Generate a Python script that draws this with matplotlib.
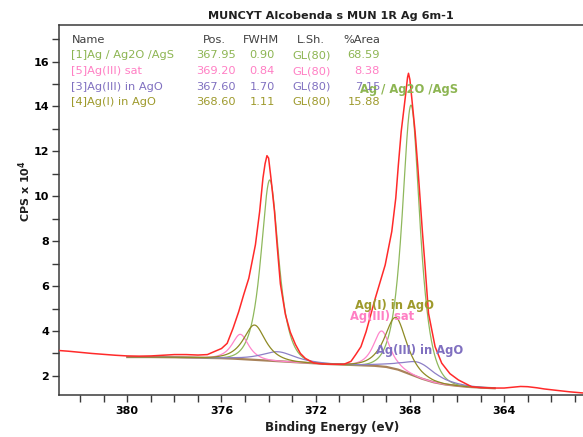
import numpy as np
import matplotlib
matplotlib.use("Agg")
import matplotlib.pyplot as plt
from matplotlib.ticker import MultipleLocator

plt.rcParams['font.family'] = ['DejaVu Sans']
plt.rcParams['mathtext.fontset'] = 'dejavusans'
plt.rcParams['mathtext.default'] = 'bf'

# ---------------- data ----------------
title = "MUNCYT Alcobenda s MUN 1R Ag 6m-1"

# measured spectrum (red), binding energy (eV) and CPS x 1e4
red_be = [382.88, 382.5, 382.0, 381.5, 381.0, 380.5, 380.0, 379.5, 379.0, 378.5,
          378.0, 377.5, 377.0, 376.6, 376.27, 376.0, 375.76, 375.51, 375.27, 375.06,
          374.84, 374.56, 374.38, 374.24, 374.15, 374.07, 374.0, 373.9, 373.75, 373.64,
          373.5, 373.29, 373.08, 372.86, 372.65, 372.44, 372.09, 371.7, 371.24, 370.8,
          370.5, 370.3, 370.08, 369.86, 369.47, 369.05, 368.77, 368.6, 368.49, 368.37,
          368.2, 368.1, 368.06, 368.0, 367.92, 367.78, 367.67, 367.57, 367.47, 367.36,
          367.21, 366.93, 366.65, 366.3, 365.94, 365.38, 365.0, 364.5, 364.0, 363.6,
          363.3, 363.0, 362.6, 362.3, 361.8, 361.2, 360.65]
red_cps = [3.13, 3.10, 3.05, 3.00, 2.96, 2.92, 2.89, 2.88, 2.89, 2.92,
           2.95, 2.95, 2.93, 2.95, 3.10, 3.22, 3.45, 4.12, 4.86, 5.61,
           6.35, 7.84, 9.32, 10.81, 11.45, 11.81, 11.70, 10.81, 9.32, 7.84,
           6.10, 4.75, 3.95, 3.40, 3.00, 2.78, 2.58, 2.53, 2.52, 2.52,
           2.65, 2.95, 3.30, 3.97, 5.46, 6.94, 8.43, 9.92, 11.40, 12.88,
           14.37, 15.30, 15.48, 15.20, 14.37, 12.88, 11.40, 9.92, 8.43, 6.94,
           4.79, 3.30, 2.57, 2.10, 1.82, 1.52, 1.48, 1.46, 1.46, 1.50,
           1.53, 1.52, 1.47, 1.42, 1.36, 1.29, 1.24]

# background (brown)
bg_be = [380.0, 379.0, 378.0, 377.0, 376.0, 375.5, 375.0, 374.5, 374.0, 373.5,
         373.0, 372.5, 372.0, 371.5, 371.0, 370.5, 370.0, 369.5, 369.0, 368.5,
         368.0, 367.5, 367.0, 366.5, 366.0, 365.5, 365.0, 364.4]
bg_cps = [2.84, 2.84, 2.83, 2.81, 2.79, 2.77, 2.74, 2.71, 2.68, 2.65,
          2.62, 2.59, 2.56, 2.53, 2.51, 2.49, 2.47, 2.45, 2.40, 2.28,
          2.08, 1.88, 1.72, 1.62, 1.56, 1.51, 1.48, 1.45]

# fitted components (table values) + peak heights
comp_names = ["[1]Ag / Ag2O /AgS", "[5]Ag(III) sat", "[3]Ag(III) in AgO", "[4]Ag(I) in AgO"]
comp_pos = [367.95, 369.20, 367.60, 368.60]
comp_fwhm = [0.90, 0.84, 1.70, 1.11]
comp_lsh = ["GL(80)", "GL(80)", "GL(80)", "GL(80)"]
comp_area = [68.59, 8.38, 7.15, 15.88]
height_52 = [12.0, 1.58, 0.67, 2.30]    # Ag 3d5/2 heights above background
height_32 = [8.05, 1.10, 0.42, 1.55]    # Ag 3d3/2 heights above background
split = 6.0                              # 3d3/2 - 3d5/2 spacing (eV)

text_cols = ["#8db552", "#ff7fc4", "#8070c0", "#9e9a2c"]
line_cols = ["#8fb85c", "#ff86cc", "#8d7fc6", "#8e8a24"]

# ---------------- figure ----------------
W, H = 583, 437
fig = plt.figure(figsize=(W / 100, H / 100), dpi=100)
ax = fig.add_axes([59 / W, 1 - 395 / H, 524 / W, 370 / H])
ax.set_xlim(382.9, 360.65)
ax.set_ylim(1.15, 17.63)


def gl(x, e, f, m=80):
    u = ((x - e) / f) ** 2
    return np.exp(-4 * np.log(2) * (1 - m / 100) * u) / (1 + 4 * (m / 100) * u)


xg = np.linspace(bg_be[0], bg_be[-1], 1200)
bgi = np.interp(xg, bg_be[::-1], bg_cps[::-1])

ax.plot(bg_be, bg_cps, color="#a8825a", lw=1.6, zorder=2)
for i in range(4):
    yc = bgi + height_52[i] * gl(xg, comp_pos[i], comp_fwhm[i]) \
        + height_32[i] * gl(xg, comp_pos[i] + split, comp_fwhm[i])
    ax.plot(xg, yc, color=line_cols[i], lw=0.9, zorder=3)
ax.plot(red_be, red_cps, color="#ff2a2a", lw=1.1, zorder=4)

# axes styling
for s in ["left", "bottom", "top"]:
    ax.spines[s].set_color("#3a3a3a")
    ax.spines[s].set_linewidth(1.1)
ax.spines["right"].set_visible(False)
ax.xaxis.set_major_locator(MultipleLocator(4))
ax.xaxis.set_minor_locator(MultipleLocator(1))
ax.yaxis.set_major_locator(MultipleLocator(2))
ax.yaxis.set_minor_locator(MultipleLocator(1))
ax.tick_params(which="both", direction="out", length=5, width=1, color="#3a3a3a")
ax.tick_params(axis="x", which="major", pad=3, labelsize=8)
ax.tick_params(axis="y", which="major", pad=2, labelsize=8)
ax.set_yticks([2, 4, 6, 8, 10, 12, 14, 16])
ax.set_yticklabels(["2", "4", "6", "8", "10", "12", "14", "16"], fontweight="bold")
ax.set_xticks([380, 376, 372, 368, 364])
ax.set_xticklabels(["380", "376", "372", "368", "364"], fontweight="bold")

fig.text(331 / W, 1 - 16 / H, title, ha="center", va="center", fontsize=8.1,
         fontweight="bold", color="#202020")
fig.text(332 / W, 1 - 428 / H, "Binding Energy (eV)", ha="center", va="center",
         fontsize=8.6, fontweight="bold", color="#202020")
fig.text(25 / W, 1 - 191 / H, r"CPS x 10$^{4}$", ha="center", va="center",
         rotation=90, fontsize=8, fontweight="bold", color="#202020")

# table legend
fs = 8.2
rows_y = [55.5, 71.0, 86.5, 102.0]
hdr_y = 40
hc = "#404040"
fig.text(71.6 / W, 1 - hdr_y / H, "Name", ha="left", va="center", fontsize=fs, color=hc)
fig.text(202.6 / W, 1 - hdr_y / H, "Pos.", ha="left", va="center", fontsize=fs, color=hc)
fig.text(242.5 / W, 1 - hdr_y / H, "FWHM", ha="left", va="center", fontsize=fs, color=hc)
fig.text(296.6 / W, 1 - hdr_y / H, "L.Sh.", ha="left", va="center", fontsize=fs, color=hc)
fig.text(343 / W, 1 - hdr_y / H, "%Area", ha="left", va="center", fontsize=fs, color=hc)
for r in range(4):
    y = 1 - rows_y[r] / H
    c = text_cols[r]
    fig.text(71 / W, y, comp_names[r], ha="left", va="center", fontsize=fs, color=c)
    fig.text(236 / W, y, f"{comp_pos[r]:.2f}", ha="right", va="center", fontsize=fs, color=c)
    fig.text(275 / W, y, f"{comp_fwhm[r]:.2f}", ha="right", va="center", fontsize=fs, color=c)
    fig.text(292 / W, y, comp_lsh[r], ha="left", va="center", fontsize=fs, color=c)
    fig.text(380 / W, y, f"{comp_area[r]:.2f}", ha="right", va="center", fontsize=fs, color=c)

# peak annotations
ax.text(370.1, 14.74, "Ag / Ag2O /AgS", ha="left", va="center", fontsize=8.3,
        fontweight="bold", color=text_cols[0], zorder=6)
ax.text(370.32, 5.12, "Ag(I) in AgO", ha="left", va="center", fontsize=8.3,
        fontweight="bold", color=text_cols[3], zorder=6)
ax.text(370.53, 4.64, "Ag(III) sat", ha="left", va="center", fontsize=8.3,
        fontweight="bold", color=text_cols[1], zorder=6)
ax.text(369.42, 3.11, "Ag(III) in AgO", ha="left", va="center", fontsize=8.3,
        fontweight="bold", color=text_cols[2], zorder=6)

fig.savefig("out.png", dpi=100)
